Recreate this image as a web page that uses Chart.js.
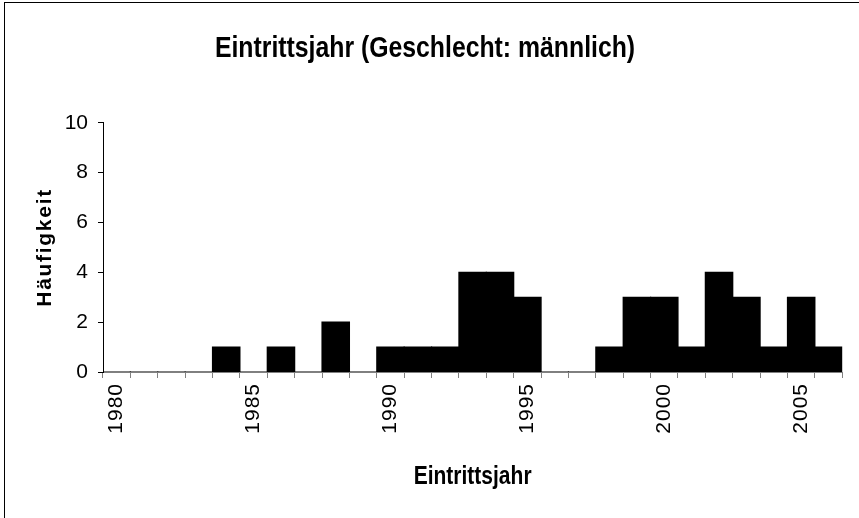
<!DOCTYPE html>
<html>
<head>
<meta charset="utf-8">
<script src="https://cdn.jsdelivr.net/npm/chart.js@4"></script>
<style>
  body { margin: 0; background: #fff; }
  #wrap { position: relative; width: 859px; height: 518px; overflow: hidden; }
  #frame { position: absolute; left: 4px; top: 2px; width: 900px; height: 600px;
           border-left: 1px solid #000; border-top: 1px solid #000; pointer-events: none; }
</style>
</head>
<body>
<div id="wrap">
  <canvas id="chart"></canvas>
  <div id="frame"></div>
</div>
<script>
// Eintrittsjahr histogram, male employees

const years = [1980, 1981, 1982, 1983, 1984, 1985, 1986, 1987, 1988, 1989,
               1990, 1991, 1992, 1993, 1994, 1995, 1996, 1997, 1998, 1999,
               2000, 2001, 2002, 2003, 2004, 2005, 2006];
const counts = [0, 0, 0, 0, 1, 0, 1, 0, 2, 0,
                1, 1, 1, 4, 4, 3, 0, 0, 1, 3,
                3, 1, 4, 3, 1, 3, 1];
const yTicks = [0, 2, 4, 6, 8, 10];

const chartTitle = 'Eintrittsjahr (Geschlecht: männlich)';
const xTitle = 'Eintrittsjahr';
const yTitle = 'Häufigkeit';

const sans = "'Liberation Sans', Arial, sans-serif";

// squeeze a draw call horizontally around cx (no narrow font installed)
function squeezed(ctx, fn, factor, getCx) {
    return function (...a) {
        const cx = getCx(this);
        ctx.save();
        ctx.translate(cx, 0);
        ctx.scale(factor, 1);
        ctx.translate(-cx, 0);
        fn.apply(this, a);
        ctx.restore();
    };
}

// --- text tweaks: narrow titles, letter spacing on rotated texts ---
const textTweaks = {
    id: 'textTweaks',
    beforeDraw(chart) {
        const ctx = chart.ctx;
        const y = chart.scales.y, x = chart.scales.x, t = chart.titleBlock;
        if (t && !t.$tweaked) {
            t.$tweaked = true;
            t.draw = squeezed(ctx, t.draw, 0.855, b => (b.left + b.right) / 2);
        }
        if (!y.$tweaked) {
            y.$tweaked = true;
            const drawTitle = y.drawTitle;
            y.drawTitle = function (...a) { ctx.letterSpacing = '1.7px'; drawTitle.apply(this, a); ctx.letterSpacing = '0px'; };
        }
        if (!x.$tweaked) {
            x.$tweaked = true;
            const drawLabels = x.drawLabels;
            x.drawLabels = function (...a) { ctx.letterSpacing = '1px'; drawLabels.apply(this, a); ctx.letterSpacing = '0px'; };
            x.drawTitle = squeezed(ctx, x.drawTitle, 0.84, s => (s.left + s.right) / 2);
        }
    }
};

new Chart(document.getElementById('chart'), {
    type: 'bar',
    data: {
        labels: years,
        datasets: [{
            data: counts,
            backgroundColor: '#000',
            borderWidth: 0,
            inflateAmount: 0.6,
            barPercentage: 1,
            categoryPercentage: 1
        }]
    },
    options: {
        responsive: true,
        maintainAspectRatio: false,
        animation: false,
        layout: { padding: { left: 4, right: 13, top: 0, bottom: 0 } },
        plugins: {
            legend: { display: false },
            tooltip: { enabled: false },
            title: {
                display: true,
                text: chartTitle,
                color: '#000',
                font: { family: sans, size: 29, weight: 'bold' },
                padding: { top: 32, bottom: 56 }
            }
        },
        scales: {
            x: {
                offset: true,
                grid: { offset: true, drawOnChartArea: false, color: '#808080', tickLength: 6 },
                border: { color: '#808080' },
                ticks: {
                    autoSkip: false,
                    minRotation: 90,
                    maxRotation: 90,
                    padding: 5,
                    color: '#000',
                    font: { family: sans, size: 21 },
                    callback: (v, i) => (years[i] % 5 === 0 ? String(years[i]) : '')
                },
                title: {
                    display: true,
                    text: xTitle,
                    color: '#000',
                    font: { family: sans, size: 25, weight: 'bold' },
                    padding: { top: 0, bottom: 26 }
                },
                afterFit: s => { s.height = 146; }
            },
            y: {
                min: 0,
                max: 10,
                afterBuildTicks: s => { s.ticks = yTicks.map(v => ({ value: v })); },
                grid: { drawOnChartArea: false, color: '#000', tickLength: 5 },
                border: { color: '#000' },
                ticks: {
                    padding: 10,
                    color: '#000',
                    font: { family: sans, size: 21 }
                },
                title: {
                    display: true,
                    text: yTitle,
                    color: '#000',
                    font: { family: sans, size: 21, weight: 'bold' },
                    padding: { top: 29, bottom: 0 }
                },
                afterFit: s => { s.width = 99; }
            }
        }
    },
    plugins: [textTweaks]
});
</script>
</body>
</html>
